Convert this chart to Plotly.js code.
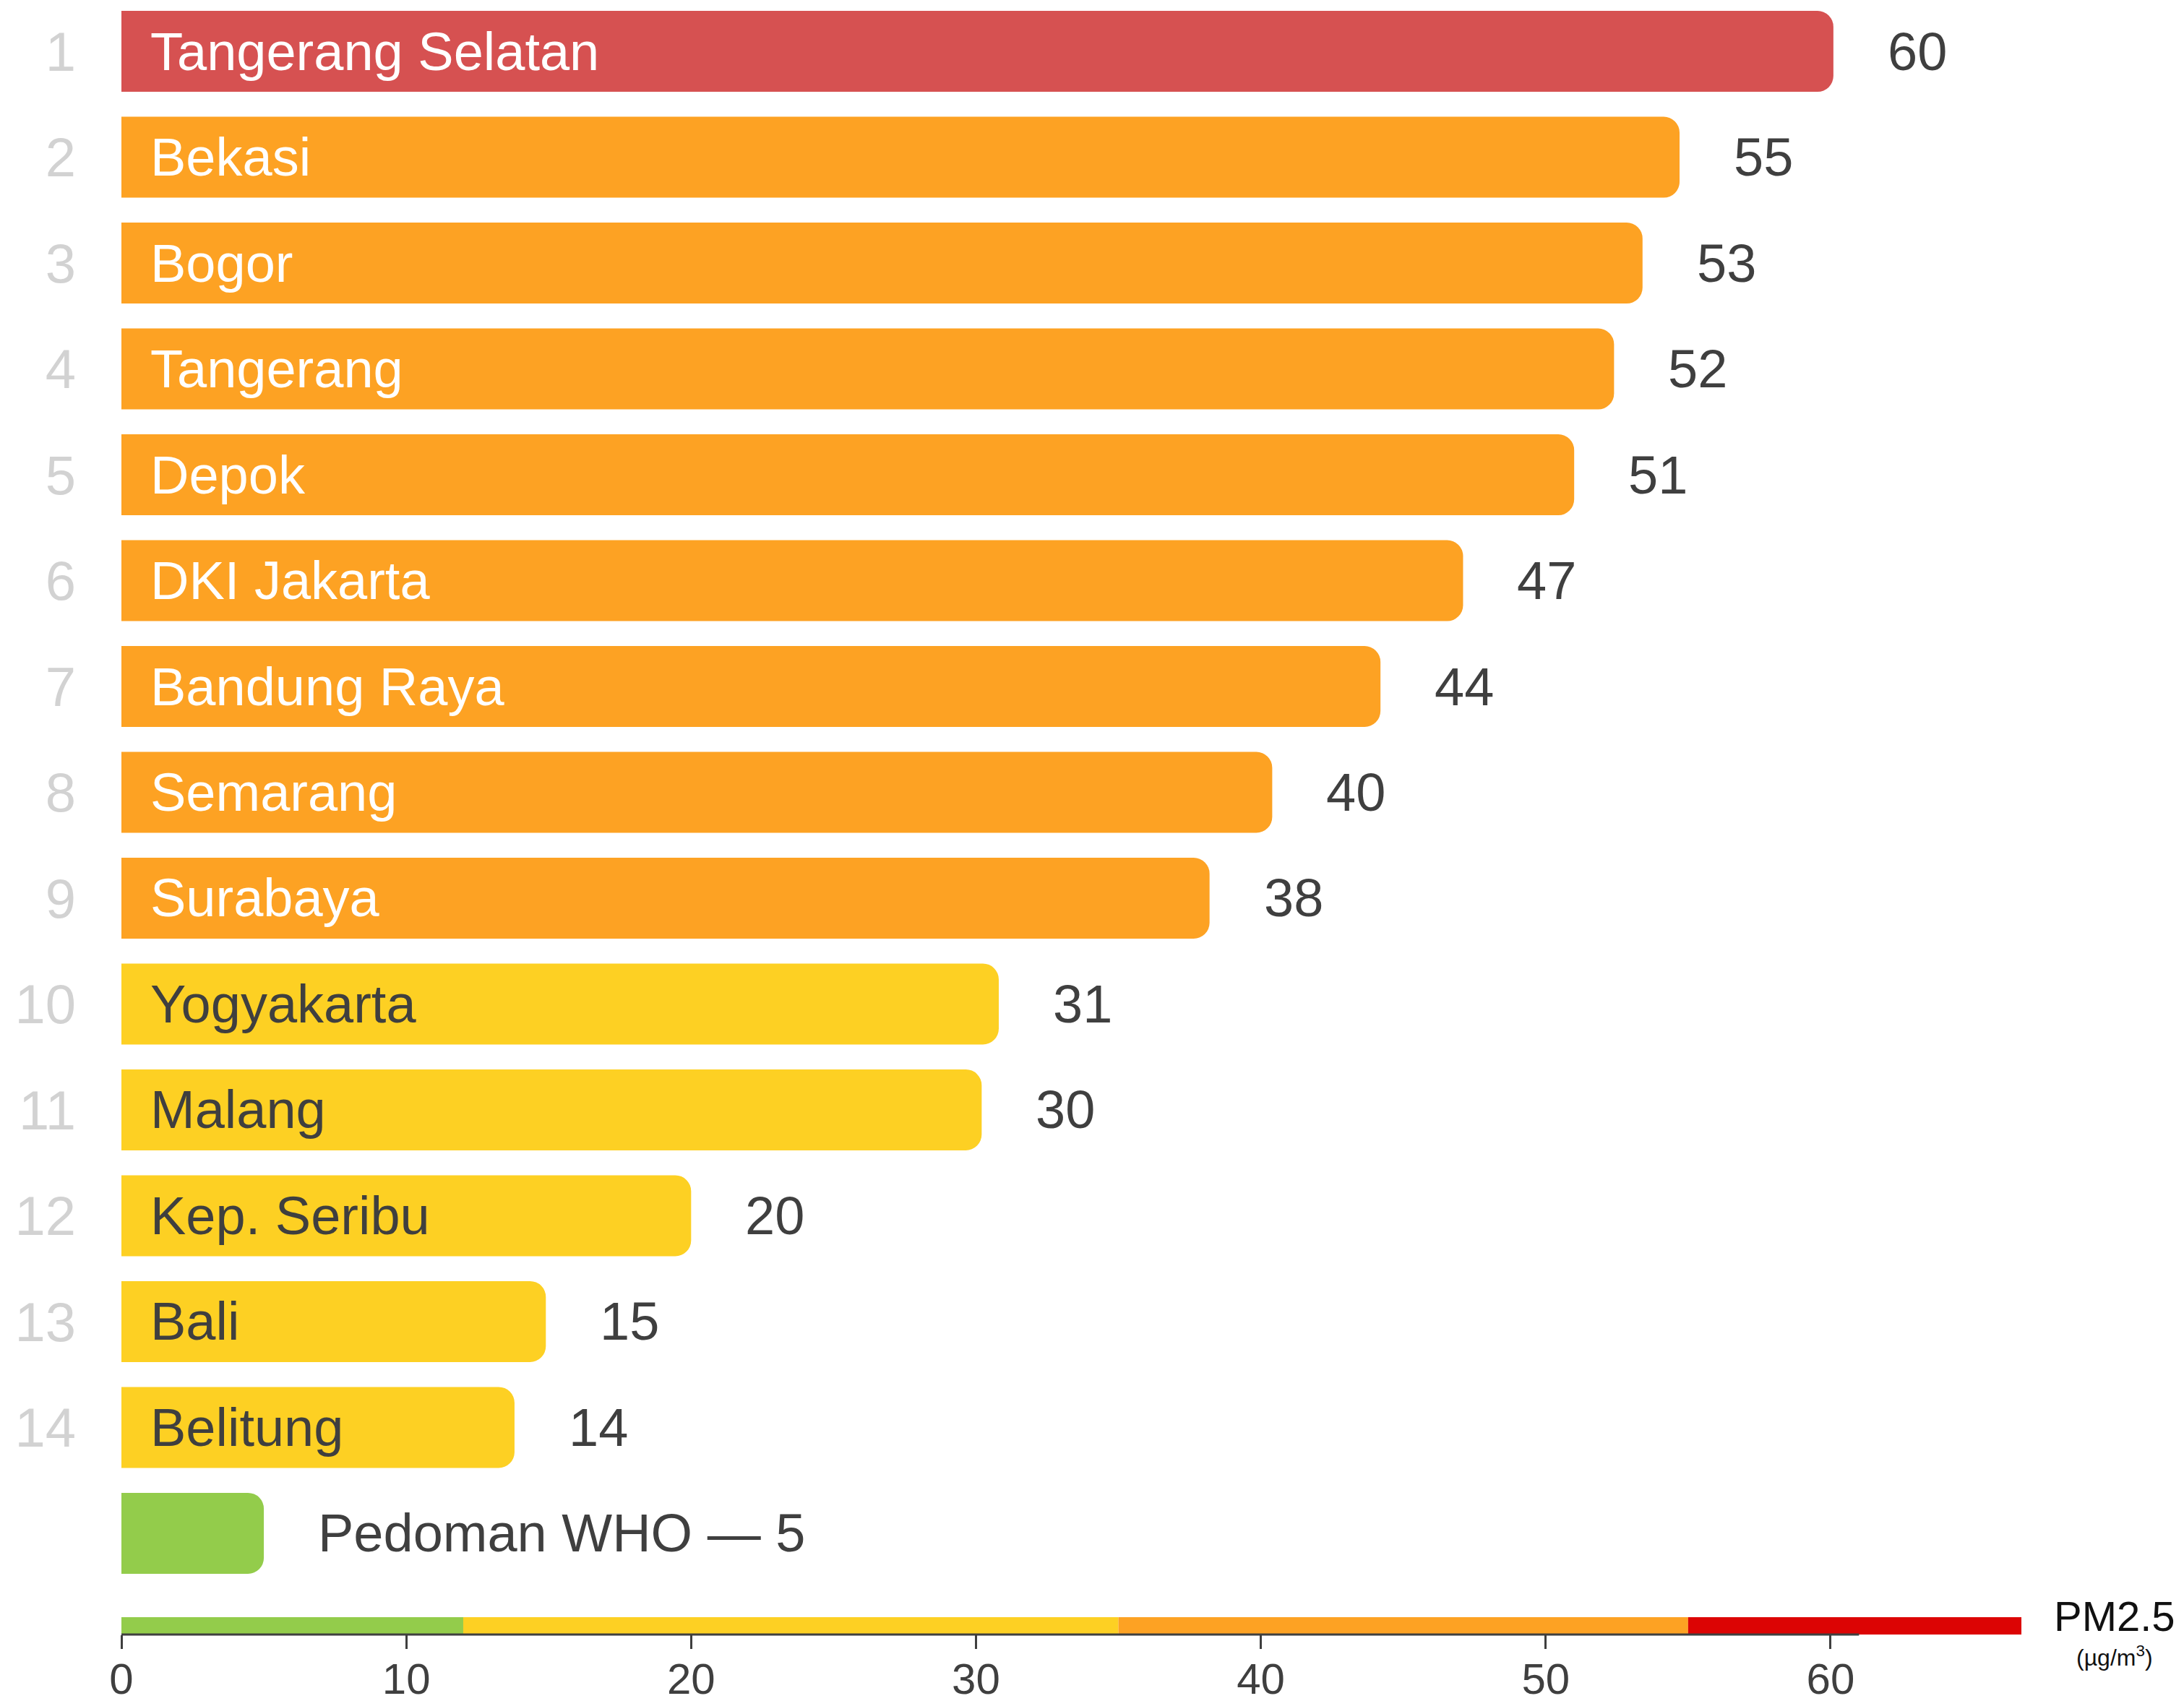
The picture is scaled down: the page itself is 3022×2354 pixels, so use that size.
<!DOCTYPE html>
<html>
<head>
<meta charset="utf-8">
<script src="https://cdn.plot.ly/plotly-3.0.1.min.js"></script>
<style>html,body{margin:0;padding:0;background:#fff;}#chart{width:3022px;height:2354px;}</style>
</head>
<body>
<div id="chart"></div>
<script>
// ---- data ----
const cities = ['Tangerang Selatan','Bekasi','Bogor','Tangerang','Depok','DKI Jakarta','Bandung Raya','Semarang','Surabaya','Yogyakarta','Malang','Kep. Seribu','Bali','Belitung'];
const pm25 = [60.1, 54.7, 53.4, 52.4, 51.0, 47.1, 44.2, 40.4, 38.2, 30.8, 30.2, 20.0, 14.9, 13.8];
const pm25Labels = ['60','55','53','52','51','47','44','40','38','31','30','20','15','14'];
const ranks = ['1','2','3','4','5','6','7','8','9','10','11','12','13','14'];
const whoName = 'Pedoman WHO';
const whoValue = 5;
const whoLabel = 'Pedoman WHO — 5';
const xTicks = [0, 10, 20, 30, 40, 50, 60];
const scaleBreaks = [0, 12, 35, 55, 66.7];
const scaleColors = ['#93CC4B', '#FDD023', '#FDA223', '#DC0404'];
const axisEnd = 61;

// ---- styling helpers ----
const FONT = 'Liberation Sans, Arial, sans-serif';
const DARK = '#3f3f3f';
function barColor(v) {
  if (v >= 55) return '#D65151';
  if (v >= 35) return '#FDA223';
  if (v >= 12) return '#FDD023';
  return '#93CC4B';
}
function nameColor(v) { return v >= 35 ? '#ffffff' : DARK; }

const yCats = cities.concat([whoName]);
const xVals = pm25.concat([whoValue]);
const colors = xVals.map(barColor);
const valueTexts = pm25Labels.concat([whoLabel]);

const trace = {
  type: 'bar',
  orientation: 'h',
  y: yCats,
  x: xVals,
  marker: { color: colors, cornerradius: 22, line: { width: 0 } },
  hoverinfo: 'skip',
  showlegend: false
};

const annotations = [];
cities.forEach((c, i) => {
  annotations.push({
    x: 0, y: c, xref: 'x', yref: 'y', xanchor: 'left', yanchor: 'middle', xshift: 38,
    text: c, showarrow: false,
    font: { family: FONT, size: 74, color: nameColor(pm25[i]) }
  });
});
yCats.forEach((c, i) => {
  annotations.push({
    x: xVals[i], y: c, xref: 'x', yref: 'y', xanchor: 'left', yanchor: 'middle', xshift: 73,
    text: valueTexts[i], showarrow: false,
    font: { family: FONT, size: 74, color: DARK }
  });
});
annotations.push({
  x: 1, y: 0, xref: 'paper', yref: 'paper', xanchor: 'center', yanchor: 'middle',
  xshift: 129, yshift: 26, text: 'PM2.5', showarrow: false,
  font: { family: FONT, size: 58, color: '#111111' }
});
annotations.push({
  x: 1, y: 0, xref: 'paper', yref: 'paper', xanchor: 'center', yanchor: 'middle',
  xshift: 129, yshift: -30, text: '(µg/m<sup>3</sup>)', showarrow: false,
  font: { family: FONT, size: 32, color: '#111111' }
});

const shapes = [];
for (let i = 0; i < scaleColors.length; i++) {
  shapes.push({
    type: 'rect', xref: 'x', yref: 'paper', ysizemode: 'pixel', yanchor: 0,
    x0: scaleBreaks[i], x1: scaleBreaks[i + 1], y0: 0, y1: 24,
    fillcolor: scaleColors[i], line: { width: 0 }, layer: 'above'
  });
}
shapes.push({
  type: 'line', xref: 'x', yref: 'paper', x0: 0, x1: axisEnd, y0: 0, y1: 0,
  line: { color: DARK, width: 3 }, layer: 'above'
});

const layout = {
  width: 3022, height: 2354,
  margin: { l: 168, r: 225, t: 0, b: 92 },
  paper_bgcolor: '#ffffff', plot_bgcolor: '#ffffff',
  bargap: 0.235,
  xaxis: {
    range: [0, scaleBreaks[scaleBreaks.length - 1]],
    tickvals: xTicks, ticktext: xTicks.map(String),
    ticks: 'outside', ticklen: 19, tickwidth: 3, tickcolor: DARK,
    ticklabelstandoff: -10,
    showline: false, showgrid: false, zeroline: false,
    tickfont: { family: FONT, size: 60, color: DARK },
    fixedrange: true
  },
  yaxis: {
    type: 'category',
    range: [14.956, -0.485],
    tickvals: cities, ticktext: ranks,
    ticks: '', showline: false, showgrid: false, zeroline: false,
    ticklabelstandoff: 62,
    tickfont: { family: FONT, size: 76, color: '#d2d2d2' },
    fixedrange: true
  },
  annotations: annotations,
  shapes: shapes
};

Plotly.newPlot('chart', [trace], layout, { staticPlot: true, displayModeBar: false });
</script>
</body>
</html>
